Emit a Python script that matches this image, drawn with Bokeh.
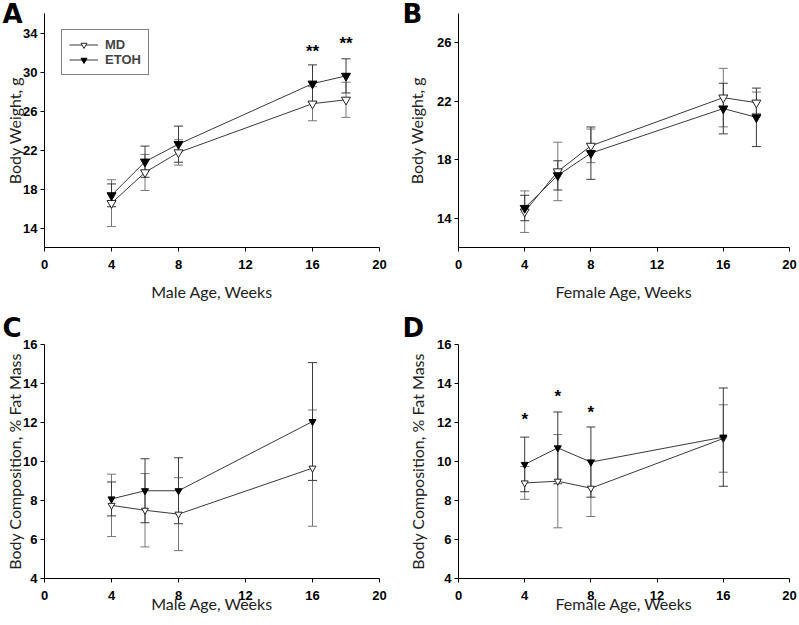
from bokeh.plotting import figure
from bokeh.layouts import gridplot
from bokeh.models import (ColumnDataSource, Whisker, TeeHead, FixedTicker,
                          Range1d, Legend, LegendItem, Title)
from bokeh.core.properties import value
from bokeh.embed import file_html
from bokeh.resources import INLINE

# ---------------- data ----------------
weeks_bw = [4, 6, 8, 16, 18]
weeks_fat = [4, 6, 8, 16]
x_ticks = [0, 4, 8, 12, 16, 20]

# A: male body weight (g)
a_md = [16.55, 19.7, 21.75, 26.75, 27.15]
a_md_sd = [2.4, 1.85, 1.3, 1.75, 1.8]
a_etoh = [17.35, 20.8, 22.6, 28.8, 29.6]
a_etoh_sd = [1.17, 1.6, 1.85, 1.93, 1.75]
a_star_x = [16, 18]
a_star_y = [32.1, 32.9]
a_star_txt = ["**", "**"]

# B: female body weight (g)
b_md = [14.45, 17.2, 18.95, 22.25, 21.9]
b_md_sd = [1.42, 2.0, 1.15, 2.0, 0.73]
b_etoh = [14.7, 16.93, 18.45, 21.5, 20.9]
b_etoh_sd = [0.87, 1.0, 1.79, 1.73, 2.0]

# C: male % fat mass
c_md = [7.75, 7.5, 7.3, 9.66]
c_md_sd = [1.6, 1.88, 1.87, 2.98]
c_etoh = [8.08, 8.5, 8.5, 12.05]
c_etoh_sd = [0.87, 1.64, 1.69, 3.02]

# D: female % fat mass
d_md = [8.9, 8.99, 8.63, 11.18]
d_md_sd = [0.84, 2.39, 1.45, 1.73]
d_etoh = [9.85, 10.7, 9.97, 11.25]
d_etoh_sd = [1.4, 1.84, 1.8, 2.52]
d_star_x = [4, 6, 8]
d_star_y = [12.15, 13.35, 12.5]
d_star_txt = ["*", "*", "*"]

LBL_FONT = "Lato"
TICK_FONT = "Liberation Sans"
LETTER_FONT = "DejaVu Sans"


def panel(letter, xs, md, md_sd, etoh, etoh_sd, yr, yticks, xlabel, ylabel,
          width, height, fw, fh, bl, bt, bb, xstand, ystand, title_standoff,
          legend=False, stars=None, msize=9):
    p = figure(width=width, height=height, frame_width=fw, frame_height=fh,
               min_border_left=bl, min_border_top=bt, min_border_bottom=bb,
               min_border_right=width - bl - fw,
               x_range=Range1d(0, 20), y_range=Range1d(*yr),
               output_backend="svg", toolbar_location=None)
    p.outline_line_color = None
    p.grid.visible = False
    p.background_fill_color = "white"
    p.border_fill_color = "white"
    for ax in (p.xaxis[0], p.yaxis[0]):
        ax.minor_tick_line_color = None
        ax.major_tick_in = 0
        ax.major_tick_out = 4
        ax.axis_line_color = "black"
        ax.major_tick_line_color = "black"
        ax.major_label_text_font = TICK_FONT
        ax.major_label_text_font_style = "bold"
        ax.major_label_text_font_size = "13px"
        ax.major_label_text_color = "black"
        ax.axis_label_text_font = LBL_FONT
        ax.axis_label_text_font_style = "normal"
        ax.axis_label_text_font_size = "16px"
        ax.axis_label_text_color = "#222222"
    p.xaxis.ticker = FixedTicker(ticks=x_ticks)
    p.yaxis.ticker = FixedTicker(ticks=yticks)
    p.xaxis.axis_label = xlabel
    p.yaxis.axis_label = ylabel
    p.xaxis.major_label_standoff = 8
    p.yaxis.major_label_standoff = 3
    p.xaxis.axis_label_standoff = xstand
    p.yaxis.axis_label_standoff = ystand

    for vals, sd, col in ((md, md_sd, "#777777"), (etoh, etoh_sd, "#3a3a3a")):
        src = ColumnDataSource(dict(x=xs,
                                    lo=[v - s for v, s in zip(vals, sd)],
                                    hi=[v + s for v, s in zip(vals, sd)]))
        w = Whisker(base="x", lower="lo", upper="hi", source=src,
                    line_color=col, line_width=1,
                    upper_head=TeeHead(size=9, line_color=col, line_width=1),
                    lower_head=TeeHead(size=9, line_color=col, line_width=1),
                    level="underlay")
        p.add_layout(w)

    l_md = p.line(xs, md, line_color="#3a3a3a", line_width=1)
    s_md = p.scatter(xs, md, marker="inverted_triangle", size=msize,
                     fill_color="white", line_color="#222222", line_width=1)
    l_et = p.line(xs, etoh, line_color="#3a3a3a", line_width=1)
    s_et = p.scatter(xs, etoh, marker="inverted_triangle", size=msize,
                     fill_color="black", line_color="black", line_width=1)

    if stars is not None:
        sx, sy, st = stars
        p.text(x=sx, y=sy, text=st, text_align="center",
               text_baseline="middle", text_font=value(TICK_FONT),
               text_font_style="bold", text_font_size="17px",
               text_color="black")

    if legend:
        lg = Legend(items=[LegendItem(label="MD", renderers=[l_md, s_md]),
                           LegendItem(label="ETOH", renderers=[l_et, s_et])],
                    location=(17, 172), orientation="vertical",
                    glyph_width=29, glyph_height=15, label_height=15,
                    spacing=0, padding=7, margin=0, label_standoff=7,
                    label_text_font=TICK_FONT, label_text_font_style="bold",
                    label_text_font_size="13px",
                    border_line_color="black", border_line_width=1,
                    background_fill_color="white", background_fill_alpha=1)
        p.add_layout(lg)

    p.add_layout(Title(text=letter, align="left", offset=-(bl - 2),
                       standoff=title_standoff, text_font=LETTER_FONT,
                       text_font_style="bold", text_font_size="26px",
                       text_color="black"), "above")
    return p


pA = panel("A", weeks_bw, a_md, a_md_sd, a_etoh, a_etoh_sd, (12, 36),
           [14, 18, 22, 26, 30, 34], "Male Age, Weeks", "Body Weight, g",
           width=400, height=306, fw=335, fh=234, bl=44, bt=13, bb=59,
           xstand=10, ystand=-4, title_standoff=-30, legend=True,
           stars=(a_star_x, a_star_y, a_star_txt))
pB = panel("B", weeks_bw, b_md, b_md_sd, b_etoh, b_etoh_sd, (12, 28),
           [14, 18, 22, 26], "Female Age, Weeks", "Body Weight, g",
           width=399, height=306, fw=331, fh=234, bl=58, bt=13, bb=59,
           xstand=10, ystand=8, title_standoff=-30)
pC = panel("C", weeks_fat, c_md, c_md_sd, c_etoh, c_etoh_sd, (4, 16),
           [4, 6, 8, 10, 12, 14, 16], "Male Age, Weeks",
           "Body Composition, % Fat Mass",
           width=400, height=319, fw=335, fh=234, bl=44, bt=38, bb=47,
           xstand=-9, ystand=-4, title_standoff=4, msize=7)
pD = panel("D", weeks_fat, d_md, d_md_sd, d_etoh, d_etoh_sd, (4, 16),
           [4, 6, 8, 10, 12, 14, 16], "Female Age, Weeks",
           "Body Composition, % Fat Mass",
           width=399, height=319, fw=331, fh=234, bl=58, bt=38, bb=47,
           xstand=-9, ystand=7, title_standoff=4, msize=7,
           stars=(d_star_x, d_star_y, d_star_txt))

grid = gridplot([[pA, pB], [pC, pD]], toolbar_location=None)

open("out.html", "w").write(file_html(grid, INLINE))
